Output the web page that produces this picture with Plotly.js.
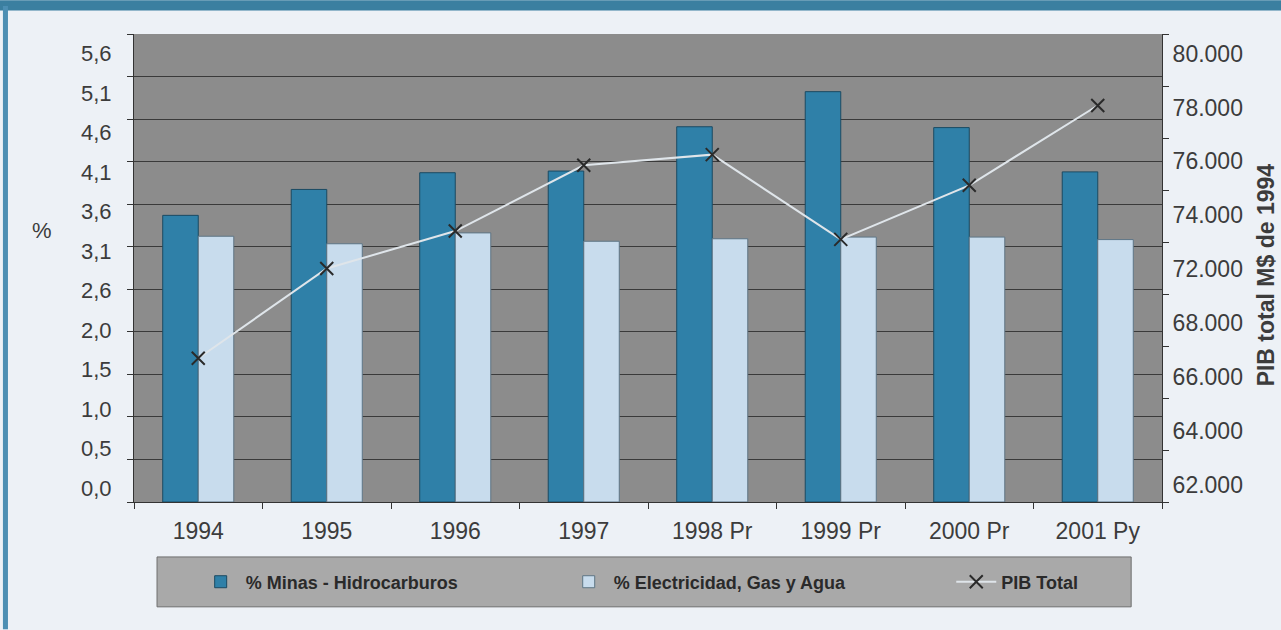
<!DOCTYPE html>
<html>
<head>
<meta charset="utf-8">
<script src="https://cdn.plot.ly/plotly-3.0.1.min.js"></script>
<style>html,body{margin:0;padding:0;background:#edf1f6;}#chart{width:1281px;height:630px;}</style>
</head>
<body>
<div id="chart"></div>
<script>
// ---- data ----
const years = ["1994", "1995", "1996", "1997", "1998 Pr", "1999 Pr", "2000 Pr", "2001 Py"];
const minasHidrocarburos = [3.43, 3.74, 3.94, 3.96, 4.49, 4.91, 4.48, 3.95];   // %
const electricidadGasAgua = [3.18, 3.09, 3.22, 3.12, 3.15, 3.17, 3.17, 3.14]; // %
const pibTotal = [67530, 70980, 72420, 74950, 75360, 72100, 74180, 77250];       // M$ de 1994
const leftTickText = ["0,0", "0,5", "1,0", "1,5", "2,0", "2,6", "3,1", "3,6", "4,1", "4,6", "5,1", "5,6"];
const rightTickText = ["62.000", "64.000", "66.000", "68.000", "72.000", "74.000", "76.000", "78.000", "80.000"];

// ---- axis settings ----
const leftMax = 5.6, leftIntervals = 11;
const rightMin = 62000, rightMax = 80000, rightStep = 2000;
const leftGrid = Array.from({length: leftIntervals + 1}, (_, i) => i * leftMax / leftIntervals);
// the printed label columns are evenly spaced but offset from the gridlines
const leftLabelStart = 0.167, leftLabelEnd = 5.367;
const leftLabelPos = leftTickText.map((_, i) => leftLabelStart + i * (leftLabelEnd - leftLabelStart) / (leftTickText.length - 1));
const rightLabelStart = 62650, rightLabelEnd = 79250;
const rightLabelPos = rightTickText.map((_, i) => rightLabelStart + i * (rightLabelEnd - rightLabelStart) / (rightTickText.length - 1));

const FONT = "Liberation Sans, Arial, Helvetica, sans-serif";
const TXT = "#3c3c3c";

const traces = [
  {
    type: "bar", name: "% Minas - Hidrocarburos", x: years, y: minasHidrocarburos, legend: "legend",
    marker: {color: "#2f80a8", line: {color: "#1b4a62", width: 1}}, yaxis: "y", hoverinfo: "x+y"
  },
  {
    type: "bar", name: "% Electricidad, Gas y Agua", x: years, y: electricidadGasAgua, legend: "legend2",
    marker: {color: "#c8dced", line: {color: "#5e7585", width: 1}}, yaxis: "y", hoverinfo: "x+y"
  },
  {
    type: "scatter", mode: "lines+markers", name: "PIB Total", x: years, y: pibTotal, yaxis: "y2", legend: "legend3",
    line: {color: "#dfe5ea", width: 2},
    marker: {symbol: "x-thin", size: 13, color: "#2a2a2a", line: {color: "#2a2a2a", width: 2}}
  },
  // empty helpers so the label-only axes are drawn
  {type: "scatter", x: [], y: [], yaxis: "y3", showlegend: false, hoverinfo: "skip"},
  {type: "scatter", x: [], y: [], yaxis: "y4", showlegend: false, hoverinfo: "skip"}
];

const legendFont = {family: FONT, size: 18, color: "#2a2a2a", weight: "bold"};
const legendBase = {orientation: "h", xanchor: "left", y: -0.171, yanchor: "middle",
  bgcolor: "rgba(0,0,0,0)", font: legendFont, itemwidth: 40};

const layout = {
  width: 1281, height: 630,
  margin: {l: 134, r: 119, t: 34, b: 128},
  paper_bgcolor: "#edf1f6",
  plot_bgcolor: "#8c8c8c",
  font: {family: FONT, size: 22, color: TXT},
  barmode: "group", bargap: 0.447, bargroupgap: 0,
  showlegend: true,
  legend: Object.assign({}, legendBase, {x: 0.0600}),
  legend2: Object.assign({}, legendBase, {x: 0.4180}),
  legend3: Object.assign({}, legendBase, {x: 0.7950}),
  xaxis: {
    type: "category", showline: true, linecolor: "#333", linewidth: 1,
    ticks: "outside", tickson: "boundaries", ticklen: 6, tickcolor: "#333", ticklabelstandoff: 8,
    tickfont: {family: FONT, size: 23, color: TXT}, showgrid: false, fixedrange: true
  },
  yaxis: {
    range: [0, leftMax], tickvals: leftGrid, showticklabels: false,
    ticks: "outside", ticklen: 6, tickcolor: "#333",
    showgrid: true, gridcolor: "#3a3a3a", gridwidth: 1,
    showline: true, linecolor: "#333", linewidth: 1, zeroline: false, fixedrange: true
  },
  yaxis3: {
    overlaying: "y", side: "left", range: [0, leftMax],
    tickvals: leftLabelPos, ticktext: leftTickText,
    ticks: "outside", ticklen: 17, tickcolor: "rgba(0,0,0,0)",
    showgrid: false, zeroline: false, showline: false,
    tickfont: {family: FONT, size: 22, color: TXT}, fixedrange: true
  },
  yaxis2: {
    overlaying: "y", side: "right", range: [rightMin, rightMax], dtick: rightStep, tick0: rightMin,
    showticklabels: false, ticks: "outside", ticklen: 6, tickcolor: "#333",
    showgrid: false, zeroline: false, showline: true, linecolor: "#333", fixedrange: true
  },
  yaxis4: {
    overlaying: "y", side: "right", range: [rightMin, rightMax],
    tickvals: rightLabelPos, ticktext: rightTickText,
    ticks: "outside", ticklen: 5, tickcolor: "rgba(0,0,0,0)",
    showgrid: false, zeroline: false, showline: false,
    tickfont: {family: FONT, size: 23, color: TXT}, fixedrange: true
  },
  shapes: [
    // top teal band of the page frame
    {type: "rect", xref: "paper", yref: "paper", x0: -0.131, x1: 1.116, y0: 1.0502, y1: 1.072, fillcolor: "#3b7fa0", line: {width: 0}, layer: "below"},
    // left teal frame line
    {type: "rect", xref: "paper", yref: "paper", x0: -0.1275, x1: -0.1226, y0: -0.272, y1: 1.06, fillcolor: "#4d8fb3", line: {width: 0}, layer: "below"},
    // legend panel
    {type: "rect", xref: "paper", yref: "paper", x0: 0.0224, x1: 0.970, y0: -0.224, y1: -0.1174, fillcolor: "#a9a9a9", line: {color: "#6e6e6e", width: 1}, layer: "below"}
  ],
  annotations: [
    {text: "%", xref: "paper", yref: "paper", x: -0.0895, y: 0.58, xanchor: "center", yanchor: "middle", showarrow: false,
     font: {family: FONT, size: 22, color: TXT}},
    {text: "<b>PIB total M$ de 1994</b>", xref: "paper", yref: "paper", x: 1.1015, y: 0.485, xanchor: "center", yanchor: "middle",
     textangle: -90, showarrow: false, font: {family: FONT, size: 23, color: TXT}}
  ]
};

Plotly.newPlot("chart", traces, layout, {displayModeBar: false, staticPlot: true});
</script>
</body>
</html>
